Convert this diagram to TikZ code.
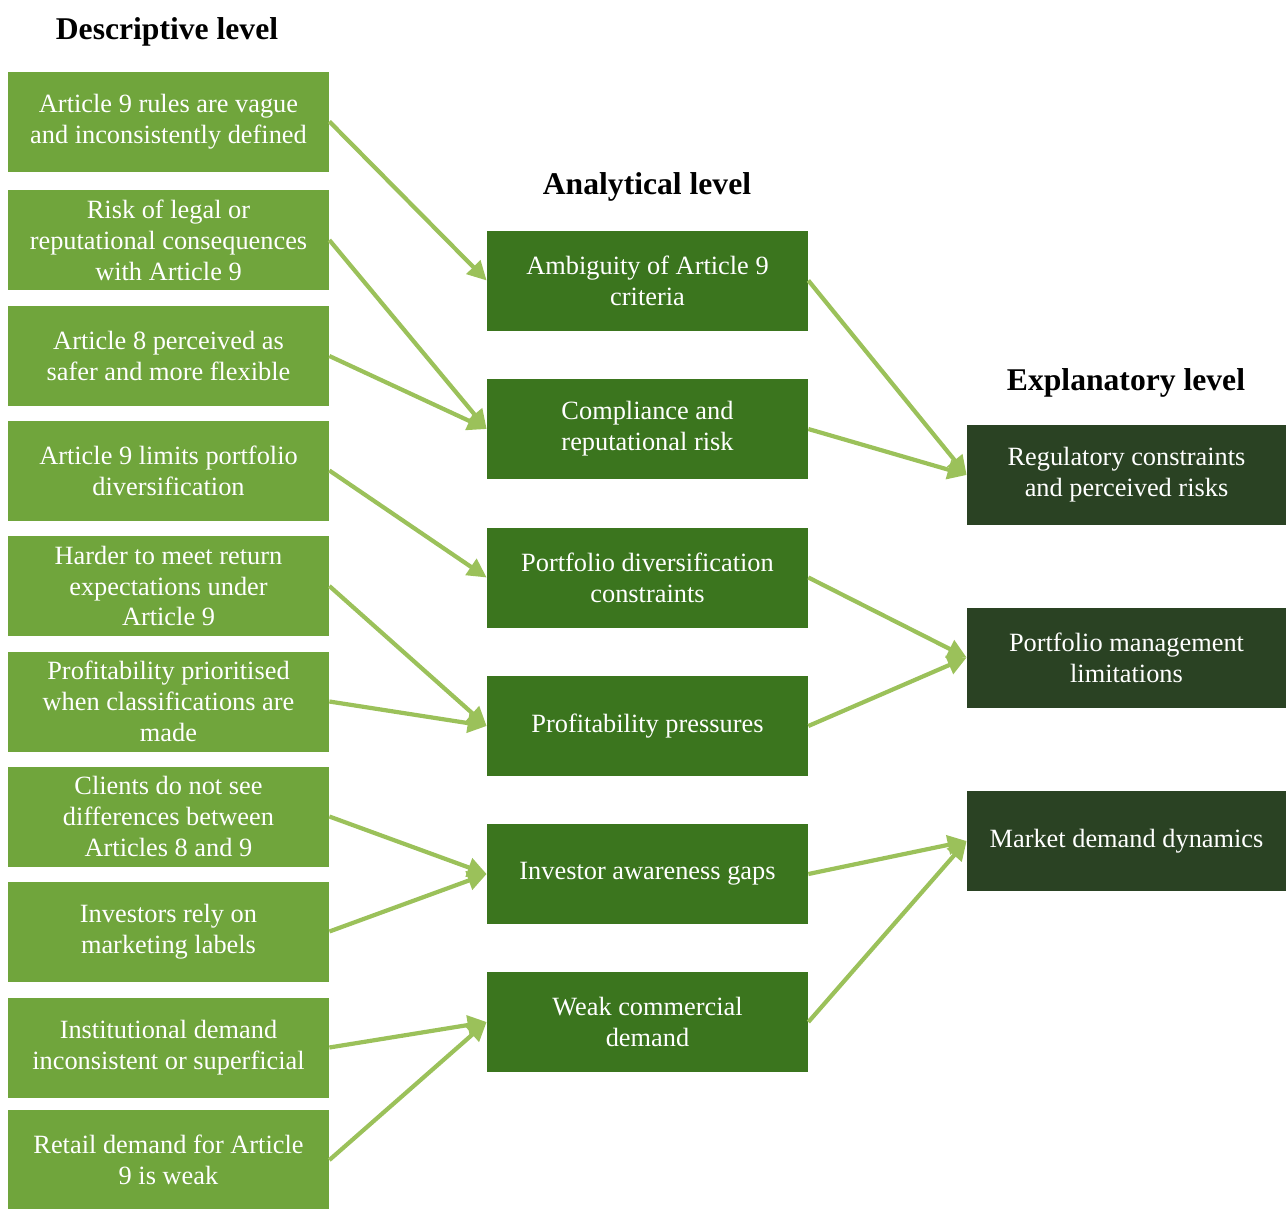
\documentclass[tikz,border=0pt]{standalone}
\usepackage{fontspec}
\setmainfont{Liberation Serif}
\usepackage{tikz}
\definecolor{leafgreen}{HTML}{70A53C}
\definecolor{midgreen}{HTML}{3B751E}
\definecolor{darkgreen}{HTML}{2A4223}
\definecolor{linkgreen}{HTML}{9BC15A}
\usetikzlibrary{arrows.meta}
\tikzset{box/.style={
    rectangle,
    align=center,
    text=white,
    inner sep=0pt,
    font=\fontsize{15}{17.6}\selectfont,
    minimum height=2cm},
  desc/.style={box,
    fill=leafgreen,
    minimum width=6.42cm},
  anal/.style={box,
    fill=midgreen,
    minimum width=6.42cm},
  expl/.style={box,
    fill=darkgreen,
    minimum width=6.38cm},
  head/.style={
    font=\fontsize{18}{20}\selectfont\bfseries},
  link/.style={
    draw=linkgreen,
    line width=2.4pt,
    -{Triangle[length=0.38cm,width=0.38cm]}}}

\begin{document}
\begin{tikzpicture}
  \useasboundingbox (0,0) rectangle (25.72,-24.16);

% column headings
\node[head] (hdesc) at (3.34,-0.64) {Descriptive level};
\node[head] (hanal) at (12.94,-3.74) {Analytical level};
\node[head] (hexpl) at (22.52,-7.66) {Explanatory level};

% descriptive level
\node[desc] (d1) at (3.37,-2.43) {Article 9 rules are vague\\and inconsistently defined};
\node[desc] (d2) at (3.37,-4.80) {Risk of legal or\\reputational consequences\\with Article 9};
\node[desc] (d3) at (3.37,-7.12) {Article 8 perceived as\\safer and more flexible};
\node[desc] (d4) at (3.37,-9.41) {Article 9 limits portfolio\\diversification};
\node[desc] (d5) at (3.37,-11.72) {Harder to meet return\\expectations under\\Article 9};
\node[desc] (d6) at (3.37,-14.03) {Profitability prioritised\\when classifications are\\made};
\node[desc] (d7) at (3.37,-16.33) {Clients do not see\\differences between\\Articles 8 and 9};
\node[desc] (d8) at (3.37,-18.63) {Investors rely on\\marketing labels};
\node[desc] (d9) at (3.37,-20.95) {Institutional demand\\inconsistent or superficial};
\node[desc] (d10) at (3.37,-23.20) {Retail demand for Article\\9 is weak};

% analytical level
\node[anal] (a1) at (12.95,-5.61) {Ambiguity of Article 9\\criteria};
\node[anal] (a2) at (12.95,-8.58) {Compliance and\\reputational risk};
\node[anal] (a3) at (12.95,-11.55) {Portfolio diversification\\constraints};
\node[anal] (a4) at (12.95,-14.52) {Profitability pressures};
\node[anal] (a5) at (12.95,-17.48) {Investor awareness gaps};
\node[anal] (a6) at (12.95,-20.44) {Weak commercial\\demand};

% explanatory level
\node[expl] (e1) at (22.53,-9.50) {Regulatory constraints\\and perceived risks};
\node[expl] (e2) at (22.53,-13.15) {Portfolio management\\limitations};
\node[expl] (e3) at (22.53,-16.82) {Market demand dynamics};

% links
\draw[link] (d1.east) -- (a1.west);
\draw[link] (d2.east) -- (a2.west);
\draw[link] (d3.east) -- (a2.west);
\draw[link] (d4.east) -- (a3.west);
\draw[link] (d5.east) -- (a4.west);
\draw[link] (d6.east) -- (a4.west);
\draw[link] (d7.east) -- (a5.west);
\draw[link] (d8.east) -- (a5.west);
\draw[link] (d9.east) -- (a6.west);
\draw[link] (d10.east) -- (a6.west);

\draw[link] (a1.east) -- (e1.west);
\draw[link] (a2.east) -- (e1.west);
\draw[link] (a3.east) -- (e2.west);
\draw[link] (a4.east) -- (e2.west);
\draw[link] (a5.east) -- (e3.west);
\draw[link] (a6.east) -- (e3.west);

\end{tikzpicture}
\end{document}
